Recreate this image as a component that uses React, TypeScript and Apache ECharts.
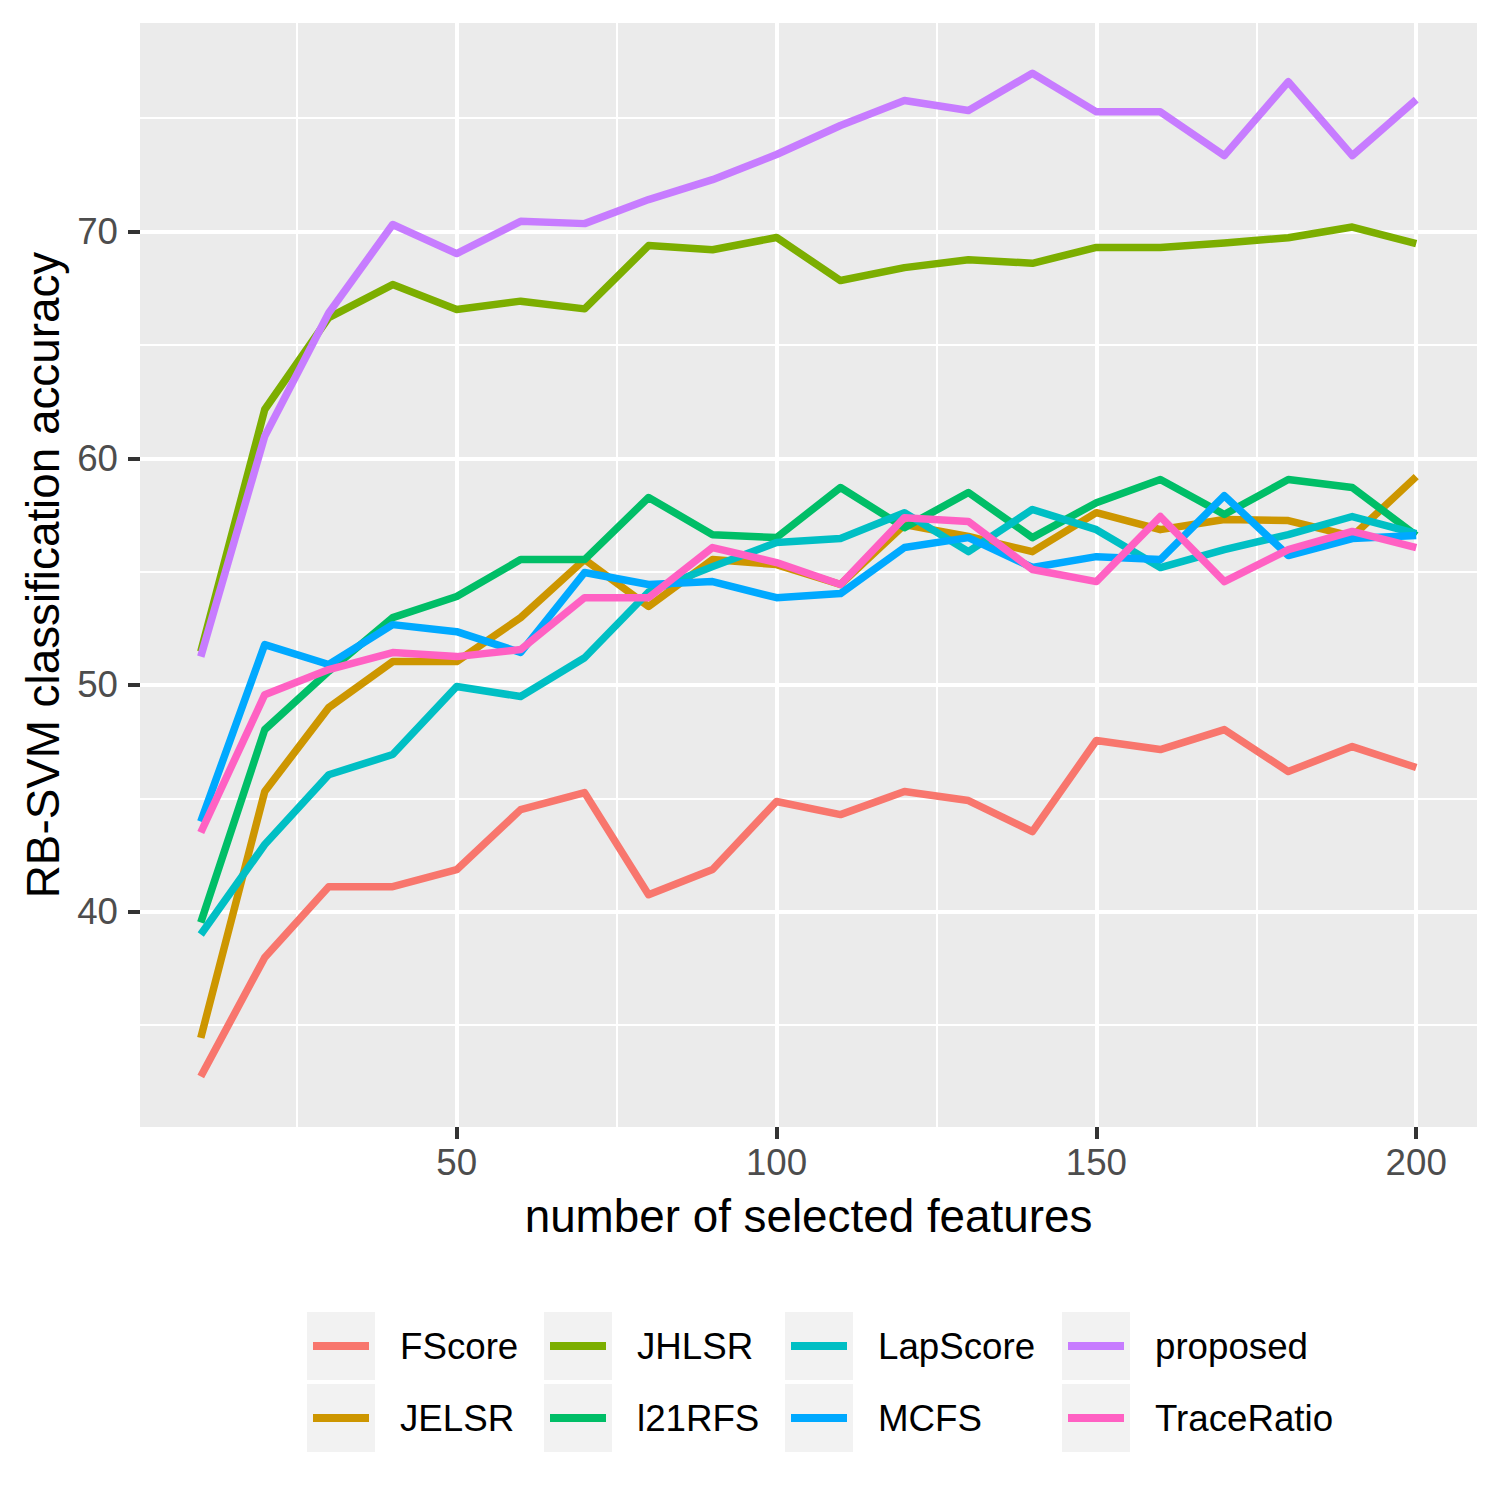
import React, { useEffect, useRef } from "react";
import * as echarts from "echarts";

const xValues = [10, 20, 30, 40, 50, 60, 70, 80, 90, 100, 110, 120, 130, 140, 150, 160, 170, 180, 190, 200];

const FScore = [32.73, 37.98, 41.1, 41.1, 41.85, 44.5, 45.25, 40.75, 41.86, 44.86, 44.28, 45.3, 44.9, 43.53, 47.55, 47.15, 48.03, 46.18, 47.28, 46.36];
const JELSR = [34.43, 45.3, 49.0, 51.03, 51.03, 52.97, 55.53, 53.46, 55.53, 55.31, 54.43, 57.07, 56.55, 55.88, 57.6, 56.85, 57.3, 57.25, 56.55, 59.19];
const JHLSR = [51.47, 62.15, 66.2, 67.66, 66.56, 66.93, 66.59, 69.38, 69.2, 69.74, 67.84, 68.41, 68.76, 68.6, 69.3, 69.3, 69.5, 69.73, 70.2, 69.47];
const l21RFS = [39.52, 48.03, 50.6, 52.97, 53.9, 55.53, 55.53, 58.27, 56.63, 56.5, 58.71, 56.94, 58.49, 56.5, 58.04, 59.06, 57.52, 59.06, 58.71, 56.59];
const LapScore = [38.99, 42.96, 46.04, 46.93, 49.93, 49.49, 51.2, 54.1, 55.22, 56.28, 56.46, 57.6, 55.88, 57.74, 56.85, 55.18, 55.97, 56.63, 57.43, 56.68];
const MCFS = [43.97, 51.78, 50.9, 52.66, 52.35, 51.43, 54.96, 54.43, 54.56, 53.85, 54.03, 56.06, 56.5, 55.18, 55.66, 55.53, 58.35, 55.71, 56.46, 56.59];
const proposed = [51.25, 60.97, 66.41, 70.31, 69.03, 70.45, 70.35, 71.41, 72.29, 73.4, 74.68, 75.78, 75.34, 76.98, 75.28, 75.28, 73.35, 76.61, 73.35, 75.82];
const TraceRatio = [43.49, 49.57, 50.68, 51.43, 51.25, 51.56, 53.85, 53.85, 56.06, 55.4, 54.43, 57.38, 57.21, 55.09, 54.56, 57.43, 54.56, 55.97, 56.77, 56.06];

const seriesNames = ["FScore", "JELSR", "JHLSR", "l21RFS", "LapScore", "MCFS", "proposed", "TraceRatio"];
const seriesValues = [FScore, JELSR, JHLSR, l21RFS, LapScore, MCFS, proposed, TraceRatio];
const seriesColors = ["#F8766D", "#CD9600", "#7CAE00", "#00BE67", "#00BFC4", "#00A9FF", "#C77CFF", "#FF61C3"];

const xMajorTicks = [50, 100, 150, 200];
const xMinorTicks = [25, 75, 125, 175];
const yMajorTicks = [40, 50, 60, 70];
const yMinorTicks = [35, 45, 55, 65, 75];

const legendColumns = [
  ["FScore", "JELSR"],
  ["JHLSR", "l21RFS"],
  ["LapScore", "MCFS"],
  ["proposed", "TraceRatio"],
];

const FONT = "'Liberation Sans', Arial, sans-serif";

export default function App() {
  const ref = useRef<HTMLDivElement>(null);

  useEffect(() => {
    if (!ref.current) return;
    const chart = echarts.init(ref.current, undefined, { renderer: "svg" });

    const gridLeft = 140;
    const gridTop = 23;
    const gridWidth = 1337;
    const gridHeight = 1104;

    const boxLefts = [307, 544, 785, 1062];
    const rowCenters = [1346, 1418];
    const boxSize = 68;

    const graphics: any[] = [];
    boxLefts.forEach((bx) => {
      rowCenters.forEach((cy) => {
        graphics.push({
          type: "rect",
          shape: { x: bx, y: cy - boxSize / 2, width: boxSize, height: boxSize },
          style: { fill: "#F2F2F2" },
          z: -1,
          silent: true,
        });
      });
    });

    const legends = legendColumns.map((names, i) => ({
      data: names,
      orient: "vertical",
      left: boxLefts[i] + 6,
      top: rowCenters[0] - 20,
      padding: 0,
      itemWidth: 56,
      itemHeight: 8,
      itemGap: 32,
      icon: "rect",
      selectedMode: false,
      textStyle: {
        fontFamily: FONT,
        fontSize: 36.7,
        color: "#000000",
        lineHeight: 40,
        padding: [0, 0, 0, 26],
      },
    }));

    const option: any = {
      animation: false,
      backgroundColor: "#FFFFFF",
      textStyle: { fontFamily: FONT },
      graphic: graphics,
      legend: legends,
      grid: {
        left: gridLeft,
        top: gridTop,
        width: gridWidth,
        height: gridHeight,
        show: true,
        backgroundColor: "#EBEBEB",
        borderWidth: 0,
        containLabel: false,
      },
      xAxis: [
        {
          type: "value",
          min: 0.5,
          max: 209.5,
          position: "bottom",
          axisLine: { show: false },
          axisTick: {
            show: true,
            customValues: xMajorTicks,
            length: 12,
            lineStyle: { color: "#333333", width: 4 },
          },
          axisLabel: {
            customValues: xMajorTicks,
            fontSize: 36.7,
            color: "#4D4D4D",
            margin: 17,
            fontFamily: FONT,
          },
          splitLine: {
            show: true,
            customValues: xMajorTicks,
            lineStyle: { color: "#FFFFFF", width: 4 },
          },
          name: "number of selected features",
          nameLocation: "middle",
          nameGap: 66,
          nameTextStyle: { fontSize: 45.8, color: "#000000", fontFamily: FONT },
        },
        {
          type: "value",
          min: 0.5,
          max: 209.5,
          position: "top",
          axisLine: { show: false },
          axisTick: { show: false, customValues: xMinorTicks },
          axisLabel: { show: false, customValues: xMinorTicks },
          splitLine: {
            show: true,
            customValues: xMinorTicks,
            lineStyle: { color: "#FFFFFF", width: 2 },
          },
        },
      ],
      yAxis: [
        {
          type: "value",
          min: 30.5,
          max: 79.2,
          position: "left",
          axisLine: { show: false },
          axisTick: {
            show: true,
            customValues: yMajorTicks,
            length: 12,
            lineStyle: { color: "#333333", width: 4 },
          },
          axisLabel: {
            customValues: yMajorTicks,
            fontSize: 36.7,
            color: "#4D4D4D",
            margin: 22,
            fontFamily: FONT,
          },
          splitLine: {
            show: true,
            customValues: yMajorTicks,
            lineStyle: { color: "#FFFFFF", width: 4 },
          },
          name: "RB-SVM classification accuracy",
          nameLocation: "middle",
          nameGap: 72,
          nameTextStyle: { fontSize: 45.8, color: "#000000", fontFamily: FONT },
        },
        {
          type: "value",
          min: 30.5,
          max: 79.2,
          position: "right",
          axisLine: { show: false },
          axisTick: { show: false, customValues: yMinorTicks },
          axisLabel: { show: false, customValues: yMinorTicks },
          splitLine: {
            show: true,
            customValues: yMinorTicks,
            lineStyle: { color: "#FFFFFF", width: 2 },
          },
        },
      ],
      series: seriesNames.map((name, i) => ({
        name,
        type: "line",
        xAxisIndex: 0,
        yAxisIndex: 0,
        data: xValues.map((x, j) => [x, seriesValues[i][j]]),
        showSymbol: false,
        symbol: "none",
        color: seriesColors[i],
        itemStyle: { color: seriesColors[i] },
        lineStyle: { color: seriesColors[i], width: 7.5, cap: "butt", join: "round" },
        z: 2 + i * 0.01,
        silent: true,
      })),
    };

    chart.setOption(option);
    return () => {
      chart.dispose();
    };
  }, []);

  return (
    <div
      ref={ref}
      style={{ position: "absolute", left: 0, top: 0, width: 1500, height: 1500 }}
    />
  );
}
